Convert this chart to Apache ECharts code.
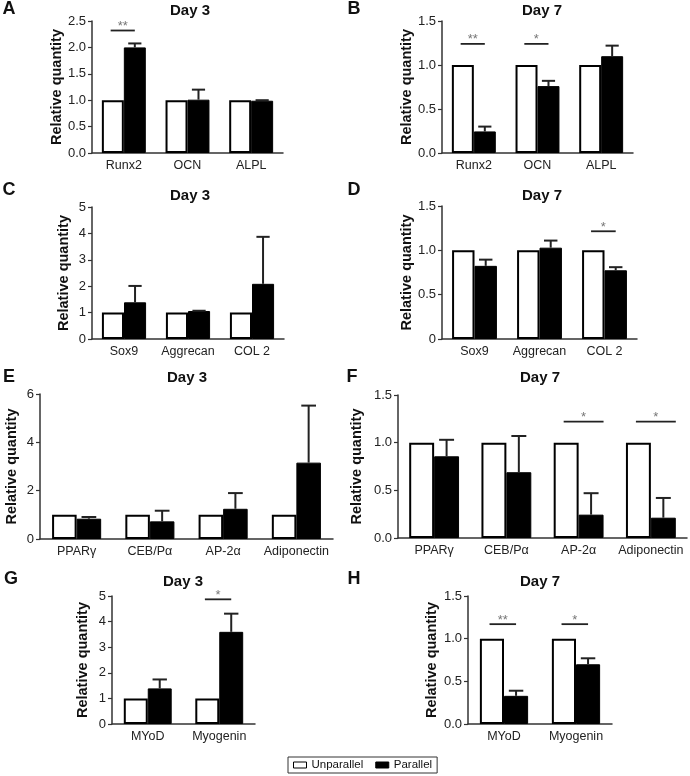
<!DOCTYPE html>
<html><head><meta charset="utf-8">
<script src="https://cdn.jsdelivr.net/npm/echarts@6/dist/echarts.min.js"></script>
<style>html,body{margin:0;padding:0;background:#fff}#c{width:690px;height:776px}</style>
</head><body><div id="c"></div><script>
// ---------- DATA ----------
const catsA = ['Runx2', 'OCN', 'ALPL'];
const unparA = [1, 1, 1];
const parA = [2.0, 1.01, 0.99];
const errA = [2.075, 1.2, 1.0];
const sigA = [[0, 2.32, '**']];

const catsB = ['Runx2', 'OCN', 'ALPL'];
const unparB = [1, 1, 1];
const parB = [0.245, 0.76, 1.10];
const errB = [0.30, 0.82, 1.22];
const sigB = [[0, 1.24, '**'], [1, 1.24, '*']];

const catsC = ['Sox9', 'Aggrecan', 'COL 2'];
const unparC = [1, 1, 1];
const parC = [1.39, 1.06, 2.09];
const errC = [2.01, 1.07, 3.87];
const sigC = [];

const catsD = ['Sox9', 'Aggrecan', 'COL 2'];
const unparD = [1, 1, 1];
const parD = [0.825, 1.03, 0.775];
const errD = [0.895, 1.11, 0.81];
const sigD = [[2, 1.215, '*']];

const catsE = ['PPARγ', 'CEB/Pα', 'AP-2α', 'Adiponectin'];
const unparE = [1, 1, 1, 1];
const parE = [0.84, 0.73, 1.25, 3.16];
const errE = [0.91, 1.17, 1.9, 5.52];
const sigE = [];

const catsF = ['PPARγ', 'CEB/Pα', 'AP-2α', 'Adiponectin'];
const unparF = [1, 1, 1, 1];
const parF = [0.857, 0.69, 0.245, 0.213];
const errF = [1.03, 1.07, 0.47, 0.42];
const sigF = [[2, 1.22, '*'], [3, 1.22, '*']];

const catsG = ['MYoD', 'Myogenin'];
const unparG = [1, 1];
const parG = [1.39, 3.6];
const errG = [1.74, 4.31];
const sigG = [[1, 4.87, '*']];

const catsH = ['MYoD', 'Myogenin'];
const unparH = [1, 1];
const parH = [0.33, 0.70];
const errH = [0.39, 0.77];
const sigH = [[0, 1.17, '**'], [1, 1.17, '*']];

const yMax = [2.5, 1.5, 5, 1.5, 6, 1.5, 5, 1.5];
const yInterval = [0.5, 0.5, 1, 0.5, 2, 0.5, 1, 0.5];
const titles = ['Day 3', 'Day 7', 'Day 3', 'Day 7', 'Day 3', 'Day 7', 'Day 3', 'Day 7'];
const letters = ['A', 'B', 'C', 'D', 'E', 'F', 'G', 'H'];
const yName = 'Relative quantity';
const seriesNames = ['Unparallel', 'Parallel'];

// ---------- LAYOUT ----------
const FONT = '"Liberation Sans", Arial, Helvetica, sans-serif';
const layout = [
  {left: 92, top: 21, width: 191, height: 132, gap: 27, tx: 190, ty: 11, lx: 9, ly: 9, fmt: 'd1', bc: 0.31, sr: 0.5},
  {left: 442, top: 21, width: 191, height: 132, gap: 27, tx: 542, ty: 11, lx: 354, ly: 9, fmt: 'd1', bc: 0.31, sr: 0.5},
  {left: 92, top: 207, width: 192, height: 132, gap: 21, tx: 190, ty: 196, lx: 9, ly: 190, fmt: 'int', bc: 0.31, sr: 0.5},
  {left: 442, top: 206, width: 195, height: 133, gap: 27, tx: 542, ty: 196, lx: 354, ly: 190, fmt: 'd0', bc: 0.31, sr: 0.5},
  {left: 40, top: 394, width: 293, height: 145, gap: 21, tx: 187, ty: 378, lx: 9, ly: 377, fmt: 'int', bc: 0.33, sr: 0.5},
  {left: 398, top: 395, width: 289, height: 143, gap: 34, tx: 540, ty: 378, lx: 352, ly: 377, fmt: 'd1', bc: 0.31, sr: 1.0},
  {left: 112, top: 596, width: 143, height: 128, gap: 22, tx: 183, ty: 582, lx: 11, ly: 579, fmt: 'int', bc: 0.33, sr: 0.5},
  {left: 468, top: 596, width: 144, height: 128, gap: 29, tx: 540, ty: 582, lx: 354, ly: 579, fmt: 'd1', bc: 0.33, sr: 0.5}
];

const panels = [
  [catsA, unparA, parA, errA, sigA],
  [catsB, unparB, parB, errB, sigB],
  [catsC, unparC, parC, errC, sigC],
  [catsD, unparD, parD, errD, sigD],
  [catsE, unparE, parE, errE, sigE],
  [catsF, unparF, parF, errF, sigF],
  [catsG, unparG, parG, errG, sigG],
  [catsH, unparH, parH, errH, sigH]
];

function fmtFn(kind) {
  if (kind === 'd1') return v => v.toFixed(1);
  if (kind === 'd0') return v => (v === 0 ? '0' : v.toFixed(1));
  return v => String(v);
}

const grids = [], xAxes = [], yAxes = [], series = [], graphics = [];
const AXIS_COLOR = '#333';

panels.forEach((p, i) => {
  const [cats, unpar, par, err, sig] = p;
  const L = layout[i];
  grids.push({left: L.left, top: L.top, width: L.width, height: L.height, containLabel: false});
  xAxes.push({
    type: 'category', gridIndex: i, data: cats,
    axisLine: {lineStyle: {color: AXIS_COLOR, width: 1.5}},
    axisTick: {show: false},
    axisLabel: {color: '#222', fontSize: 12.5, fontFamily: FONT, margin: 6, interval: 0}
  });
  yAxes.push({
    type: 'value', gridIndex: i, min: 0, max: yMax[i], interval: yInterval[i],
    name: yName, nameLocation: 'middle', nameRotate: 90, nameGap: L.gap,
    nameTextStyle: {fontSize: 14.5, fontWeight: 'bold', color: '#111', fontFamily: FONT},
    axisLine: {show: true, lineStyle: {color: AXIS_COLOR, width: 1.5}},
    axisTick: {show: true, length: 4, lineStyle: {color: AXIS_COLOR, width: 1.2}},
    splitLine: {show: false},
    axisLabel: {color: '#222', fontSize: 13, fontFamily: FONT, margin: 6, formatter: fmtFn(L.fmt)}
  });
  const bcPct = Math.round(L.bc * 100) + '%';
  series.push({
    type: 'bar', name: seriesNames[0], xAxisIndex: i, yAxisIndex: i, data: unpar,
    barGap: '0%', barCategoryGap: bcPct,
    itemStyle: {color: '#fff', borderColor: '#000', borderWidth: 2},
    emphasis: {disabled: true}, animation: false
  });
  series.push({
    type: 'bar', name: seriesNames[1], xAxisIndex: i, yAxisIndex: i, data: par,
    barGap: '0%', barCategoryGap: bcPct,
    itemStyle: {color: '#000', borderColor: '#000', borderWidth: 1},
    emphasis: {disabled: true}, animation: false
  });
  const bc = L.bc;
  series.push({
    type: 'custom', xAxisIndex: i, yAxisIndex: i, z: 5, animation: false,
    data: par.map((v, j) => [j, v, err[j]]),
    renderItem: (params, api) => {
      const cat = api.value(0);
      const p0 = api.coord([cat, api.value(1)]);
      const p1 = api.coord([cat, api.value(2)]);
      const band = api.size([1, 0])[0];
      const bw = band * (1 - bc) / 2;
      const x = p0[0] + bw / 2;
      const cap = bw * 0.6;
      const st = {stroke: '#222', lineWidth: 2};
      return {type: 'group', children: [
        {type: 'line', shape: {x1: x, y1: p0[1], x2: x, y2: p1[1]}, style: st},
        {type: 'line', shape: {x1: x - cap / 2, y1: p1[1], x2: x + cap / 2, y2: p1[1]}, style: st}
      ]};
    }
  });
  if (sig.length) {
    const sr = L.sr;
    series.push({
      type: 'custom', xAxisIndex: i, yAxisIndex: i, z: 6, animation: false,
      data: sig.map(s => [s[0], s[1]]),
      renderItem: (params, api) => {
        const cat = api.value(0);
        const pt = api.coord([cat, api.value(1)]);
        const band = api.size([1, 0])[0];
        const bw = band * (1 - bc) / 2;
        const x1 = pt[0] - bw * 0.6;
        const x2 = pt[0] + bw * sr;
        const label = sig[params.dataIndex][2];
        return {type: 'group', children: [
          {type: 'line', shape: {x1: x1, y1: pt[1], x2: x2, y2: pt[1]}, style: {stroke: '#222', lineWidth: 1.8}},
          {type: 'text', x: (x1 + x2) / 2, y: pt[1] - 4,
           style: {text: label, fill: '#777', font: '13px ' + FONT, textAlign: 'center', textVerticalAlign: 'middle'}}
        ]};
      }
    });
  }
  graphics.push({type: 'text', x: L.tx, y: L.ty, style: {text: titles[i], fill: '#111', font: 'bold 15px ' + FONT, textAlign: 'center', textVerticalAlign: 'middle'}});
  graphics.push({type: 'text', x: L.lx, y: L.ly, style: {text: letters[i], fill: '#111', font: 'bold 18px ' + FONT, textAlign: 'center', textVerticalAlign: 'middle'}});
});

const chart = echarts.init(document.getElementById('c'), null, {renderer: 'canvas', width: 690, height: 776});
chart.setOption({
  backgroundColor: '#fff',
  animation: false,
  grid: grids, xAxis: xAxes, yAxis: yAxes, series: series,
  graphic: graphics,
  legend: {
    left: 288, top: 757,
    data: [
      {name: seriesNames[0], icon: 'rect', itemStyle: {color: '#fff', borderColor: '#000', borderWidth: 1}},
      {name: seriesNames[1], icon: 'rect', itemStyle: {color: '#000', borderColor: '#000', borderWidth: 1}}
    ],
    itemWidth: 13, itemHeight: 6, itemGap: 12,
    borderColor: '#333', borderWidth: 1, padding: [2, 5, 2, 5],
    textStyle: {fontSize: 11.5, color: '#111', fontFamily: FONT},
    selectedMode: false
  }
});
</script></body></html>
